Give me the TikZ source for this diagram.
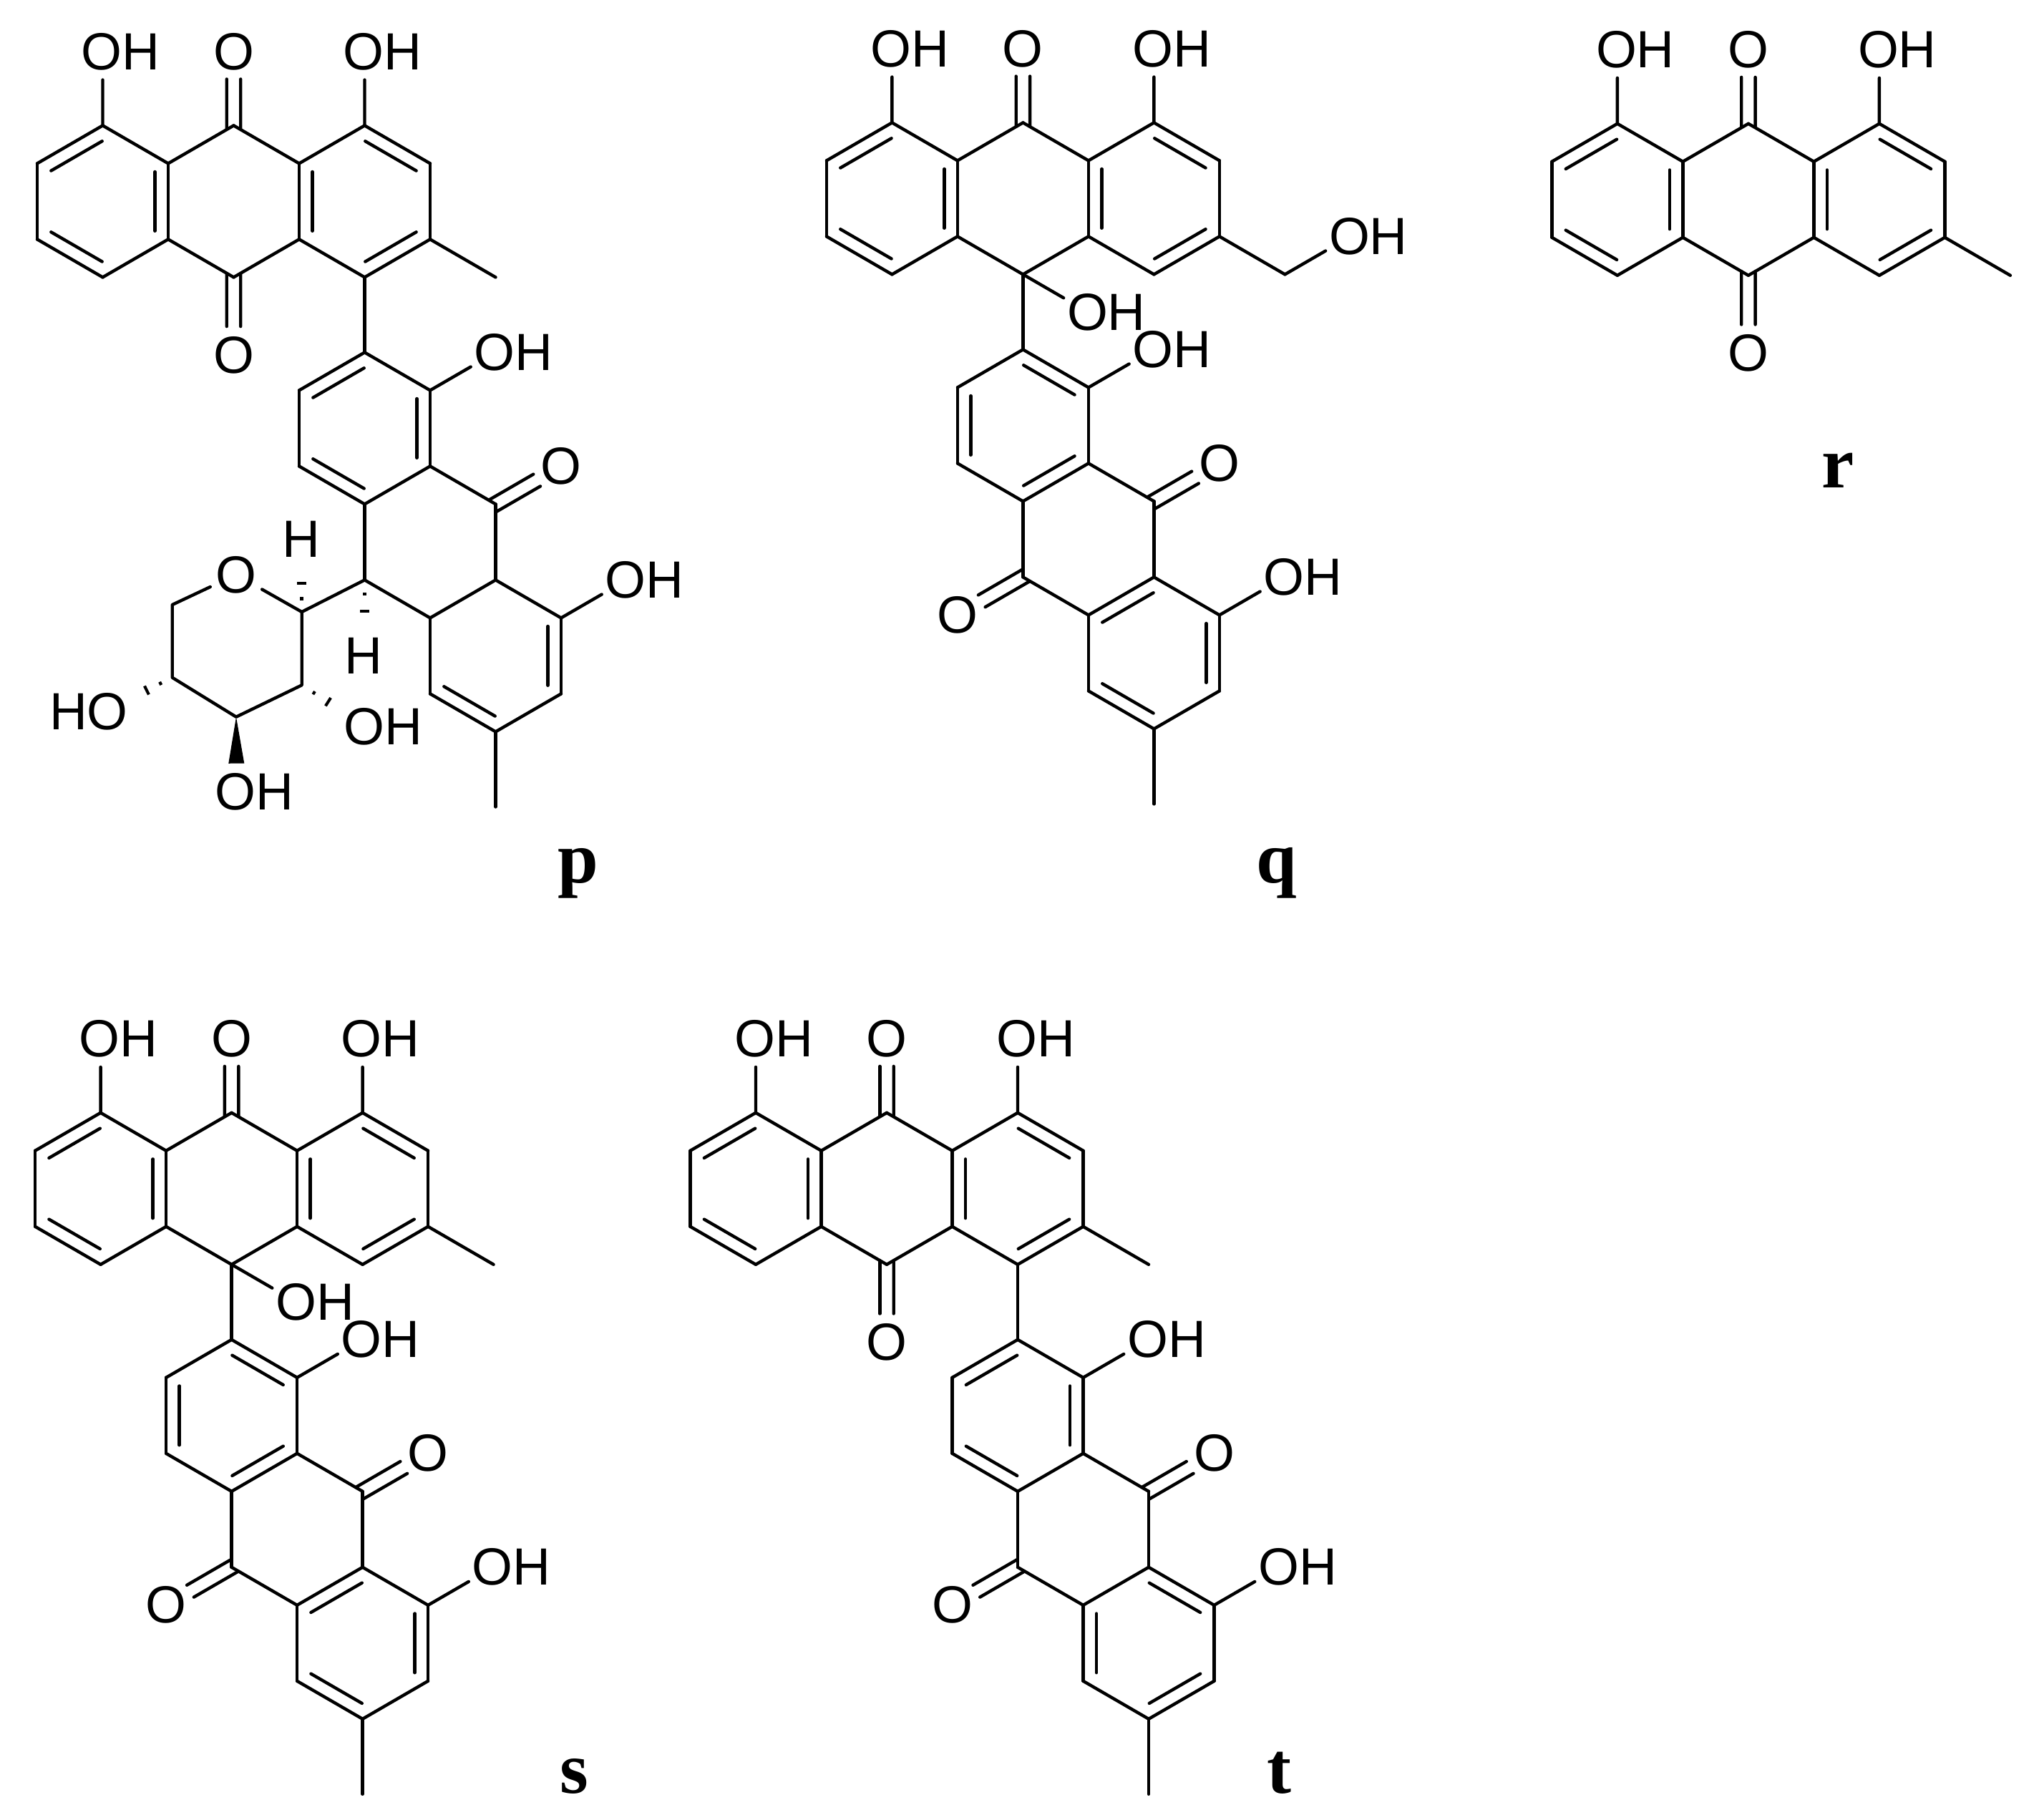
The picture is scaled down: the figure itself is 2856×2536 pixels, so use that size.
\documentclass[tikz,border=0pt]{standalone}
\usepackage{fontspec}
\setmainfont{Liberation Sans}
\newfontfamily\tagfont{Liberation Serif}
\usetikzlibrary{calc}
\tikzset{
  bond/.style={line width=1.25pt,line cap=round,line join=round,draw=black},
  hashline/.style={line width=1.15pt,draw=black},
  lab/.style={font=\fontsize{20.8}{22}\selectfont,inner sep=0pt,anchor=center,text=black},
  oh/.style={lab,xshift=0.25cm},
  tag/.style={font=\tagfont\bfseries\fontsize{29}{30}\selectfont,inner sep=0pt,anchor=base,text=black}
}
% atoms: prefix, origin x, origin y, list name/dx/dy
\newcommand{\molatoms}[4]{\foreach \n/\x/\y in {#4}{\coordinate (#1\n) at ({#2+\x},{#3+\y});}}
\newcommand{\molbonds}[2]{\foreach \a/\b in {#2}{\draw[bond] (#1\a) -- (#1\b);}}
% inner line of a ring double bond: the ring lies on the left of a->b
\newcommand{\moldbl}[2]{\foreach \a/\b in {#2}{\draw[bond] ($(#1\a)!.11!(#1\b)!.185cm!90:(#1\b)$) -- ($(#1\a)!.89!(#1\b)!.185cm!90:(#1\b)$);}}
% carbonyl: prefix, atom, dx, dy
\newcommand{\molco}[4]{%
  \node[lab] (#1#2O) at ($(#1#2)+(#3,#4)$) {O};
  \draw[bond] ($(#1#2)!-.05!(#1#2O)!.097cm!90:(#1#2O)$) -- ($(#1#2)!.63!(#1#2O)!.097cm!90:(#1#2O)$);
  \draw[bond] ($(#1#2)!-.05!(#1#2O)!.097cm!-90:(#1#2O)$) -- ($(#1#2)!.63!(#1#2O)!.097cm!-90:(#1#2O)$);
}
% hydroxyl: prefix, atom, dx, dy (O centre relative to the atom)
\newcommand{\moloh}[4]{%
  \coordinate (#1#2X) at ($(#1#2)+(#3,#4)$);
  \node[oh] (#1#2OH) at (#1#2X) {OH};
  \draw[bond] (#1#2) -- ($(#1#2)!.62!(#1#2X)$);
}
% methyl: prefix, atom, dx, dy
\newcommand{\molme}[4]{%
  \coordinate (#1#2M) at ($(#1#2)+(#3,#4)$);
  \draw[bond] (#1#2) -- (#1#2M);
}
% upper tricycle
\newcommand{\molcore}[3]{%
  \molatoms{#1}{#2}{#3}{a/0/0,b/-91.5/53,c/-91.5/159,d/0/212,e/91.5/159,f/91.5/53,g/183/0,h/274.5/53,i/274.5/159,j/183/212,k/366/0,l/457.5/53,m/457.5/159,n/366/212}
  \molbonds{#1}{a/b,b/c,c/d,d/e,e/f,f/a,f/g,g/h,h/i,i/j,j/e,h/k,k/l,l/m,m/n,n/i}
  \moldbl{#1}{a/b,c/d,e/f,l/k,n/m,h/i}
  \moloh{#1}{a}{0}{-103}
  \moloh{#1}{k}{0}{-103}
  \molco{#1}{g}{0}{-103}
}
% lower tricycle
\newcommand{\moltail}[3]{%
  \molatoms{#1}{#2}{#3}{u/0/0,v/91.5/53,w/91.5/159,x/0/212,y/-91.5/159,z/-91.5/53,P/183/212,Q/183/318,R/91.5/371,S/0/318,T/274.5/371,U/274.5/477,V/183/530,W/91.5/477}
  \molbonds{#1}{u/v,v/w,w/x,x/y,y/z,z/u,w/P,P/Q,Q/R,R/S,S/x,Q/T,T/U,U/V,V/W,W/R}
  \moloh{#1}{v}{91.5}{-53}
  \moloh{#1}{T}{91.5}{-53}
  \molco{#1}{P}{91.5}{-53}
  \molme{#1}{V}{0}{105}
}
% hashed bond: from, to (dot, short dash, long dash)
\newcommand{\molhash}[2]{\foreach \f in {.3,.65,1}{%
  \pgfmathsetmacro\hw{.11*(\f-.1)/.9}
  \draw[hashline] ($(#1)!\f!(#2)!\hw cm!90:(#2)$) -- ($(#1)!\f!(#2)!\hw cm!-90:(#2)$);}}
\begin{document}
\begin{tikzpicture}[x=0.01cm,y=-0.01cm]
\useasboundingbox (0,0) rectangle (2856,2536);
\fill[white] (0,0) rectangle (2856,2536);

% ---------- p ----------
\molcore{p}{143.5}{175.4}
\molco{p}{j}{0}{109}
\molme{p}{m}{91.5}{53}
\moltail{p}{509.5}{492.4}
\draw[bond] (pn) -- (pu);
\moldbl{p}{u/z,y/x,w/v,W/V,U/T}
\coordinate (pC1) at (421.7,855);
\coordinate (pC2) at (421.7,957.3);
\coordinate (pC3) at (330,1001.7);
\coordinate (pC4) at (240.7,946.7);
\coordinate (pC5) at (240.7,845);
\node[lab,inner sep=2pt] (pOr) at (330,803) {O};
\draw[bond] (pS) -- (pC1);
\draw[bond] (pC1) -- (pC2) -- (pC3) -- (pC4) -- (pC5) -- (pOr);
\draw[bond] (pOr) -- (pC1);
\node[lab] (pH1) at (420.7,753.3) {H};
\coordinate (pH1e) at (421.7,793.3);
\molhash{pC1}{pH1e}
\node[lab] (pH2) at (508.3,916.7) {H};
\coordinate (pH2e) at (509.5,877.3);
\molhash{pS}{pH2e}
\node[lab] (pHO) at (124,994) {HO};
\coordinate (pHOe) at (185.7,974);
\molhash{pC4}{pHOe}
\node[lab] (pOH2) at (535,1015) {OH};
\coordinate (pOH2e) at (478.3,993.3);
\molhash{pC2}{pOH2e}
\node[lab] (pOH3) at (355,1106) {OH};
\coordinate (pWe) at (330.3,1066.7);
\fill[black] (pC3) -- ($(pWe)!.11cm!90:(pC3)$) -- ($(pWe)!.11cm!-90:(pC3)$) -- cycle;
\node[tag] (pTag) at (808,1233) {p};

% ---------- q ----------
\molcore{q}{1246.4}{171.4}
\moloh{q}{j}{91.5}{53}
\coordinate (qCH) at ($(qm)+(91.5,53)$);
\draw[bond] (qm) -- (qCH);
\moloh{q}{CH}{91.5}{-53}
\moltail{q}{1429.4}{488.4}
\draw[bond] (qj) -- (qu);
\moldbl{q}{v/u,z/y,x/w,Q/R,W/V,U/T}
\molco{q}{S}{-91.5}{53}
\node[tag] (qTag) at (1784,1233) {q};

% ---------- r ----------
\molcore{r}{2259.9}{172.8}
\molco{r}{j}{0}{109}
\molme{r}{m}{91.5}{53}
\node[tag] (rTag) at (2568,681) {r};

% ---------- s ----------
\molcore{s}{140.6}{1554.8}
\moloh{s}{j}{91.5}{53}
\molme{s}{m}{91.5}{53}
\moltail{s}{323.6}{1871.8}
\draw[bond] (sj) -- (su);
\moldbl{s}{v/u,z/y,x/w,Q/R,W/V,U/T}
\molco{s}{S}{-91.5}{53}
\node[tag] (sTag) at (802,2505) {s};

% ---------- t ----------
\molcore{t}{1056}{1554.8}
\molco{t}{j}{0}{109}
\molme{t}{m}{91.5}{53}
\moltail{t}{1422}{1871.8}
\draw[bond] (tn) -- (tu);
\moldbl{t}{u/z,y/x,w/v,T/Q,R/W,V/U}
\molco{t}{S}{-91.5}{53}
\node[tag] (tTag) at (1787,2505) {t};
\end{tikzpicture}
\end{document}
